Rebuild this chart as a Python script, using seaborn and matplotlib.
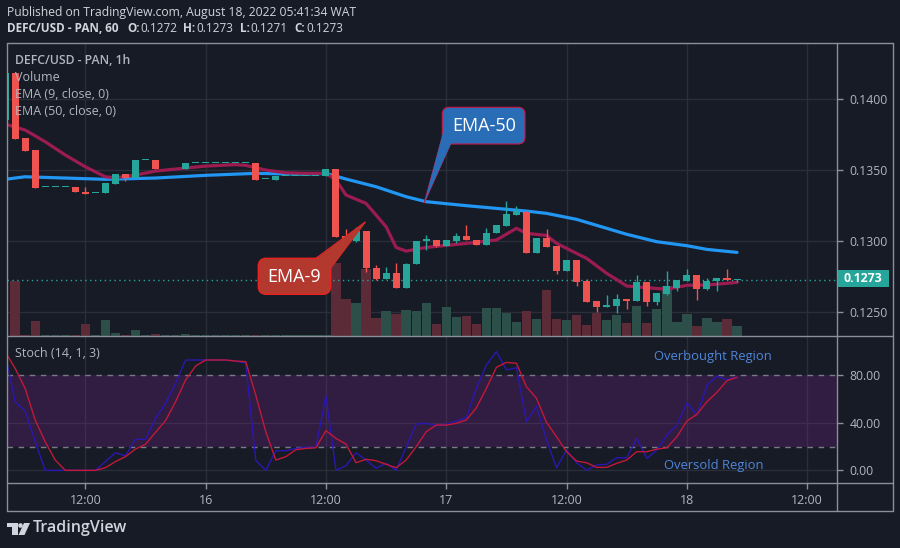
import numpy as np
import matplotlib
matplotlib.use("Agg")
import matplotlib.pyplot as plt
import seaborn as sns
from matplotlib.patches import Rectangle, FancyBboxPatch, Polygon, Circle
from matplotlib.lines import Line2D
from matplotlib import transforms

""" DEFC/USD 1h candles, Aug 15 04:00 -> Aug 18 05:00 (WAT) """

opens = [
    0.13847, 0.14181, 0.13727, 0.13641, 0.13380, 0.13380, 0.13380, 0.13383, 0.13345, 0.13340,
    0.13340, 0.13401, 0.13472, 0.13444, 0.13570, 0.13570, 0.13510, 0.13510, 0.13507, 0.13547,
    0.13547, 0.13547, 0.13547, 0.13547, 0.13547, 0.13547, 0.13437, 0.13430, 0.13460, 0.13460,
    0.13460, 0.13460, 0.13455, 0.13507, 0.13035, 0.13000, 0.13070, 0.12808, 0.12737, 0.12777,
    0.12671, 0.12838, 0.13000, 0.13007, 0.12967, 0.13002, 0.13035, 0.13007, 0.12974, 0.13056,
    0.13108, 0.13185, 0.13206, 0.12918, 0.13021, 0.12965, 0.12791, 0.12866, 0.12718, 0.12577,
    0.12537, 0.12542, 0.12592, 0.12580, 0.12711, 0.12573, 0.12627, 0.12673, 0.12718, 0.12761,
    0.12662, 0.12718, 0.12739, 0.12726]
closes = [
    0.14181, 0.13718, 0.13636, 0.13375, 0.13380, 0.13380, 0.13380, 0.13345, 0.13333, 0.13340,
    0.13411, 0.13472, 0.13444, 0.13570, 0.13570, 0.13507, 0.13510, 0.13510, 0.13547, 0.13547,
    0.13547, 0.13547, 0.13547, 0.13547, 0.13547, 0.13430, 0.13437, 0.13460, 0.13460, 0.13460,
    0.13460, 0.13460, 0.13507, 0.13030, 0.13002, 0.13070, 0.12808, 0.12737, 0.12777, 0.12671,
    0.12838, 0.13000, 0.13012, 0.12967, 0.13007, 0.13035, 0.13007, 0.12974, 0.13054, 0.13113,
    0.13190, 0.13211, 0.12918, 0.13021, 0.12960, 0.12791, 0.12866, 0.12713, 0.12573, 0.12537,
    0.12549, 0.12592, 0.12580, 0.12711, 0.12573, 0.12634, 0.12683, 0.12725, 0.12761, 0.12662,
    0.12718, 0.12739, 0.12725, 0.12730]
highs = [
    0.14181, 0.14181, 0.13727, 0.13641, 0.13380, 0.13380, 0.13380, 0.13383, 0.13383, 0.13340,
    0.13411, 0.13472, 0.13472, 0.13570, 0.13570, 0.13570, 0.13510, 0.13510, 0.13547, 0.13547,
    0.13547, 0.13547, 0.13547, 0.13547, 0.13547, 0.13547, 0.13437, 0.13460, 0.13460, 0.13460,
    0.13460, 0.13460, 0.13507, 0.13507, 0.13087, 0.13101, 0.13070, 0.12831, 0.12819, 0.12850,
    0.12850, 0.13000, 0.13042, 0.13007, 0.13007, 0.13059, 0.13113, 0.13007, 0.13094, 0.13113,
    0.13282, 0.13247, 0.13211, 0.13021, 0.13087, 0.12965, 0.12866, 0.12866, 0.12732, 0.12582,
    0.12620, 0.12627, 0.12592, 0.12761, 0.12711, 0.12634, 0.12789, 0.12725, 0.12803, 0.12761,
    0.12740, 0.12739, 0.12803, 0.12730]
lows = [
    0.13847, 0.13718, 0.13636, 0.13375, 0.13380, 0.13380, 0.13380, 0.13345, 0.13333, 0.13340,
    0.13340, 0.13401, 0.13425, 0.13444, 0.13570, 0.13507, 0.13510, 0.13510, 0.13507, 0.13547,
    0.13547, 0.13547, 0.13547, 0.13547, 0.13547, 0.13430, 0.13437, 0.13430, 0.13460, 0.13460,
    0.13460, 0.13460, 0.13455, 0.13030, 0.12976, 0.12995, 0.12780, 0.12727, 0.12737, 0.12671,
    0.12671, 0.12838, 0.12941, 0.12960, 0.12967, 0.12985, 0.13007, 0.12974, 0.12974, 0.13056,
    0.13108, 0.13185, 0.12918, 0.12918, 0.12960, 0.12770, 0.12791, 0.12685, 0.12573, 0.12500,
    0.12537, 0.12498, 0.12521, 0.12580, 0.12542, 0.12549, 0.12620, 0.12650, 0.12718, 0.12589,
    0.12655, 0.12648, 0.12725, 0.12710]
volume = [
    0.5, 55, 1, 15, 1, 1, 1, 1, 12, 1,
    16, 3, 1.5, 6, 1, 2.5, 1, 1, 2, 1,
    1, 1, 1, 1, 1, 1.3, 1, 1, 1, 1,
    1, 1, 1, 73, 37, 33, 67, 18, 25, 22,
    26, 25, 33, 12, 29, 19, 20, 12, 28, 28,
    23, 14, 25, 17, 46, 17, 16, 21, 11, 23,
    16, 21, 13, 30, 13, 27, 50, 14, 22, 10,
    18, 14, 17, 10]

# EMA lines (hour index, price)
ema9_h = [0, 2, 4, 6, 8, 10, 11, 13, 15, 16, 20, 23, 24, 26, 28, 30, 32, 33, 34, 36,
          38, 39, 40, 42, 46, 49, 51, 52, 54, 55, 56, 58, 60, 62, 64, 66, 68, 70, 72, 73]
ema9_v = [0.13822, 0.13780, 0.13698, 0.13605, 0.13522, 0.13452, 0.13445, 0.13464, 0.13492, 0.13499,
          0.13527, 0.13537, 0.13532, 0.13499, 0.13480, 0.13476, 0.13476, 0.13429, 0.13324, 0.13265,
          0.13101, 0.12956, 0.12930, 0.12956, 0.12984, 0.13008, 0.13090, 0.13055, 0.13040, 0.12985,
          0.12949, 0.12879, 0.12774, 0.12685, 0.12673, 0.12662, 0.12690, 0.12692, 0.12704, 0.12711]
ema50_h = [0, 2, 10, 15, 20, 25, 30, 32, 34, 37, 40, 42, 46, 49, 52, 54, 57, 60, 62, 65, 68, 70, 73]
ema50_v = [0.13434, 0.13452, 0.13434, 0.13443, 0.13462, 0.13476, 0.13469, 0.13476, 0.13436, 0.13382,
           0.13312, 0.13277, 0.13249, 0.13230, 0.13211, 0.13195, 0.13153, 0.13090, 0.13048, 0.12996,
           0.12968, 0.12942, 0.12921]

# Stoch (14, 1, 3)
stoch_k = [98.5, 57.8, 49.9, 24.1, 0, 0, 0, 0, 0, 0,
           7.3, 14.8, 12.3, 26.1, 26.1, 43.8, 56.4, 73.3, 92.9, 92.9,
           92.9, 92.9, 92.9, 92.0, 90.1, 8.4, 0, 16.5, 16.5, 18.5,
           19.4, 19.4, 62.6, 0, 3.9, 14.8, 8.7, 1.7, 5.9, 0,
           19.6, 39.0, 39.6, 37.6, 38.7, 41.5, 44.3, 69.0, 88.7, 99.9,
           84.5, 86.4, 40.9, 54.1, 25.5, 2.2, 17.1, 6.4, 0, 4.5,
           5.1, 10.6, 10.6, 26.9, 10.1, 17.1, 29.7, 38.1, 56.9, 46.6,
           71.8, 79.4, 76.0, 78.8]
stoch_d = [99.9, 85.9, 69.0, 42.4, 24.1, 8.7, 0, 0, 0, 0,
           2.2, 7.3, 11.5, 17.9, 21.9, 32.0, 41.8, 57.8, 76.0, 87.8,
           92.9, 92.9, 92.9, 92.0, 91.5, 63.4, 32.5, 8.7, 11.5, 17.4,
           18.5, 19.0, 33.4, 26.9, 22.1, 6.4, 9.3, 8.1, 5.1, 2.2,
           8.7, 19.9, 32.5, 38.1, 38.1, 39.6, 42.4, 52.7, 69.0, 86.7,
           90.9, 90.1, 70.4, 60.6, 40.4, 28.3, 15.7, 7.8, 6.4, 2.5,
           2.5, 5.9, 8.7, 15.7, 15.7, 17.9, 19.0, 28.3, 41.5, 47.2,
           57.8, 65.7, 75.5, 78.3]

price_ticks = [0.1250, 0.1300, 0.1350, 0.1400]
stoch_ticks = [0, 40, 80]
time_hours = [8, 20, 32, 44, 56, 68, 80]
time_labels = ['12:00', '16', '12:00', '17', '12:00', '18', '12:00']

""" STYLE """
BG = '#171b26'
GRID = '#2a2e39'
FRAME = '#8c8f98'
TXT = '#b2b5be'
UP = '#26a69a'
DOWN = '#ef5350'

sns.set_theme(style="dark", rc={"axes.facecolor": BG, "figure.facecolor": BG})
plt.rcParams['font.family'] = ['Open Sans', 'DejaVu Sans']

W, H = 900, 548
fig = plt.figure(figsize=(9, 5.48), dpi=100)
PX = transforms.Affine2D().scale(1 / W, -1 / H).translate(0, 1) + fig.transFigure

def rect(x0, y0, x1, y1):
    return [x0 / W, 1 - y1 / H, (x1 - x0) / W, (y1 - y0) / H]

ax_v = fig.add_axes(rect(6.7, 43.3, 837.3, 336))
ax_p = fig.add_axes(rect(6.7, 43.3, 837.3, 336), sharex=ax_v)
ax_s = fig.add_axes(rect(6.7, 336, 837.3, 483.3), sharex=ax_v)
ax_p.patch.set_visible(False)

hours = np.arange(len(opens))
o = np.array(opens)
c = np.array(closes)
is_up = c >= o
cols = np.where(is_up, UP, DOWN)
vol_cols = np.where(is_up, '#2c4f49', '#5b2b38')

#grid (under the volume)
for h in time_hours:
    ax_v.axvline(h, color=GRID, lw=1, zorder=0)
ax_v.hlines(price_ticks, 0, 1, color=GRID, lw=1, zorder=0,
            transform=transforms.blended_transform_factory(ax_v.transAxes, ax_p.transData))

#volume
ax_v.bar(hours, volume, width=0.93, color=vol_cols, linewidth=0, zorder=1)
ax_v.set_ylim(0, 292.7)

#ema lines
sns.lineplot(x=ema50_h, y=ema50_v, ax=ax_p, color='#2196f3', lw=2.3, zorder=2)
sns.lineplot(x=ema9_h, y=ema9_v, ax=ax_p, color='#9c1b50', lw=2.3, zorder=2)

#candles
body_lo = np.minimum(o, c)
body_h = np.maximum(np.abs(c - o), 0.00007)
ax_p.vlines(hours, lows, highs, colors=cols, lw=1, zorder=3)
ax_p.bar(hours, body_h, bottom=body_lo, width=0.7, color=cols, linewidth=0, zorder=4)
ax_p.axhline(closes[-1], color=UP, lw=1, ls=(0, (1, 2.5)), zorder=1)

ax_p.set_ylim(0.12334, 0.14389)
ax_p.yaxis.tick_right()
ax_p.set_yticks(price_ticks)
ax_p.set_yticklabels([f'{t:.4f}' for t in price_ticks])
ax_p.tick_params(axis='y', colors=TXT, labelcolor=TXT, length=4, width=1, color=FRAME,
                 labelsize=8.8, pad=5, direction='out', right=True, left=False)
ax_p.tick_params(axis='x', bottom=False, labelbottom=False)
ax_v.tick_params(axis='both', left=False, bottom=False, labelleft=False, labelbottom=False)
ax_v.set_yticks([])

#stochastic
for h in time_hours:
    ax_s.axvline(h, color=GRID, lw=1, zorder=0)
for v in [0, 40]:
    ax_s.axhline(v, color=GRID, lw=1, zorder=0)
ax_s.axhspan(20, 80, color='#9c27b0', alpha=0.2, lw=0, zorder=0.5)
for v in [80, 20]:
    ax_s.axhline(v, color='#787b86', lw=1, ls=(0, (4, 4)), zorder=1)
sns.lineplot(x=hours, y=stoch_k, ax=ax_s, color='#2a17b1', lw=1, zorder=2)
sns.lineplot(x=hours, y=stoch_d, ax=ax_s, color='#c2183a', lw=1, zorder=3)
ax_s.set_ylim(-10.9, 113.1)
ax_s.yaxis.tick_right()
ax_s.set_yticks(stoch_ticks)
ax_s.set_yticklabels([f'{t:.2f}' for t in stoch_ticks])
ax_s.tick_params(axis='y', labelcolor=TXT, length=4, width=1, color=FRAME,
                 labelsize=8.8, pad=5, direction='out', right=True, left=False)
ax_s.set_xticks(time_hours)
ax_s.set_xticklabels(time_labels)
ax_s.tick_params(axis='x', labelcolor=TXT, length=4, width=1, color=FRAME,
                 labelsize=9, pad=4, direction='out', bottom=True)
ax_s.set_xlim(0.16, 83.0)

for ax in (ax_v, ax_p, ax_s):
    ax.set_xlabel('')
    ax.set_ylabel('')
    ax.grid(False)
    for s in ax.spines.values():
        s.set_visible(False)

#frame
def seg(x0, y0, x1, y1, color=FRAME, lw=1):
    fig.add_artist(Line2D([x0, x1], [y0, y1], color=color, lw=lw, transform=PX))

for y in [43.3, 336, 483.3, 511]:
    seg(6.7, y, 893.3, y)
for x in [6.7, 837.3, 893.3]:
    seg(x, 43.3, x, 511)

#last price tag
fig.add_artist(Rectangle((837.3, 270), 51.4, 16.7, transform=PX, fc=UP, ec='none'))
fig.text(863, 278.6, f'{closes[-1]:.4f}', transform=PX, color='white', fontsize=8.8,
         fontweight='bold', ha='center', va='center')

#header
fig.text(7, 12.5, 'Published on TradingView.com, August 18, 2022 05:41:34 WAT', transform=PX,
         color='#d1d4dc', fontsize=8.7, ha='left', va='center')
for x, s, bold in [(7, 'DEFC/USD - PAN, 60', True), (127, 'O:', True), (140, '0.1272', False),
                   (183, 'H:', True), (196, '0.1273', False), (240, 'L:', True),
                   (250, '0.1271', False), (294, 'C:', True), (306, '0.1273', False)]:
    fig.text(x, 29, s, transform=PX, color='#d1d4dc', fontsize=8.5, ha='left', va='center',
             fontweight='bold' if bold else 'normal')

#pane legends
fig.text(15, 61, 'DEFC/USD - PAN, 1h', transform=PX, color=TXT, fontsize=8.8,
         fontweight='semibold', va='center')
for y, s in [(77.5, 'Volume'), (94.5, 'EMA (9, close, 0)'), (111.5, 'EMA (50, close, 0)')]:
    fig.text(15, y, s, transform=PX, color=TXT, fontsize=9, va='center')
fig.text(15, 353.5, 'Stoch (14, 1, 3)', transform=PX, color=TXT, fontsize=9, va='center')

fig.text(713, 356.5, 'Overbought Region', transform=PX, color='#4f86d9', fontsize=9.4,
         ha='center', va='center')
fig.text(714, 465.5, 'Oversold Region', transform=PX, color='#4f86d9', fontsize=9.4,
         ha='center', va='center')

#callouts
blue_box = '#2a6db7'
fig.add_artist(FancyBboxPatch((442.3, 107.3), 82.7, 36.7, transform=PX,
                              boxstyle='round,pad=0,rounding_size=7', fc=blue_box,
                              ec='#c8184a', lw=0.8, zorder=5))
fig.add_artist(Polygon([(442.9, 133), (451, 143.6), (424.3, 202.7)], closed=True,
                       transform=PX, fc=blue_box, ec='none', zorder=6))
seg(442.3, 136.7, 424.3, 202.7, color='#c8184a', lw=0.8)
seg(450.5, 144, 424.3, 202.7, color='#c8184a', lw=0.8)
fig.text(483.7, 126, 'EMA-50', transform=PX, color='white', fontsize=13,
         ha='center', va='center', zorder=7)

red_box = '#b3392f'
fig.add_artist(FancyBboxPatch((258.3, 258.3), 72.4, 36, transform=PX,
                              boxstyle='round,pad=0,rounding_size=8', fc=red_box,
                              ec='#e8231f', lw=1, zorder=5))
fig.add_artist(Polygon([(316, 258.9), (330.1, 269), (365, 222.3)], closed=True,
                       transform=PX, fc=red_box, ec='none', zorder=6))
seg(316, 258.3, 365, 222.3, color='#e8231f', lw=1)
seg(330.7, 268, 365, 222.3, color='#e8231f', lw=1)
fig.text(294.5, 277, 'EMA-9', transform=PX, color='white', fontsize=13,
         ha='center', va='center', zorder=7)

#tradingview logo
LOGO = '#d1d4dc'
fig.add_artist(Rectangle((6.5, 523), 11, 4, transform=PX, fc=LOGO, ec='none'))
fig.add_artist(Rectangle((11.5, 523), 6, 12, transform=PX, fc=LOGO, ec='none'))
fig.add_artist(Circle((20.5, 525.5), 2.3, transform=PX, fc=LOGO, ec='none'))
fig.add_artist(Polygon([(24, 523), (30, 523), (24.5, 535), (18.5, 535)], closed=True,
                       transform=PX, fc=LOGO, ec='none'))
fig.text(33, 528.5, 'TradingView', transform=PX, color=LOGO, fontsize=11.5,
         fontweight='semibold', ha='left', va='center')

fig.savefig('out.png', dpi=100, facecolor=BG)
